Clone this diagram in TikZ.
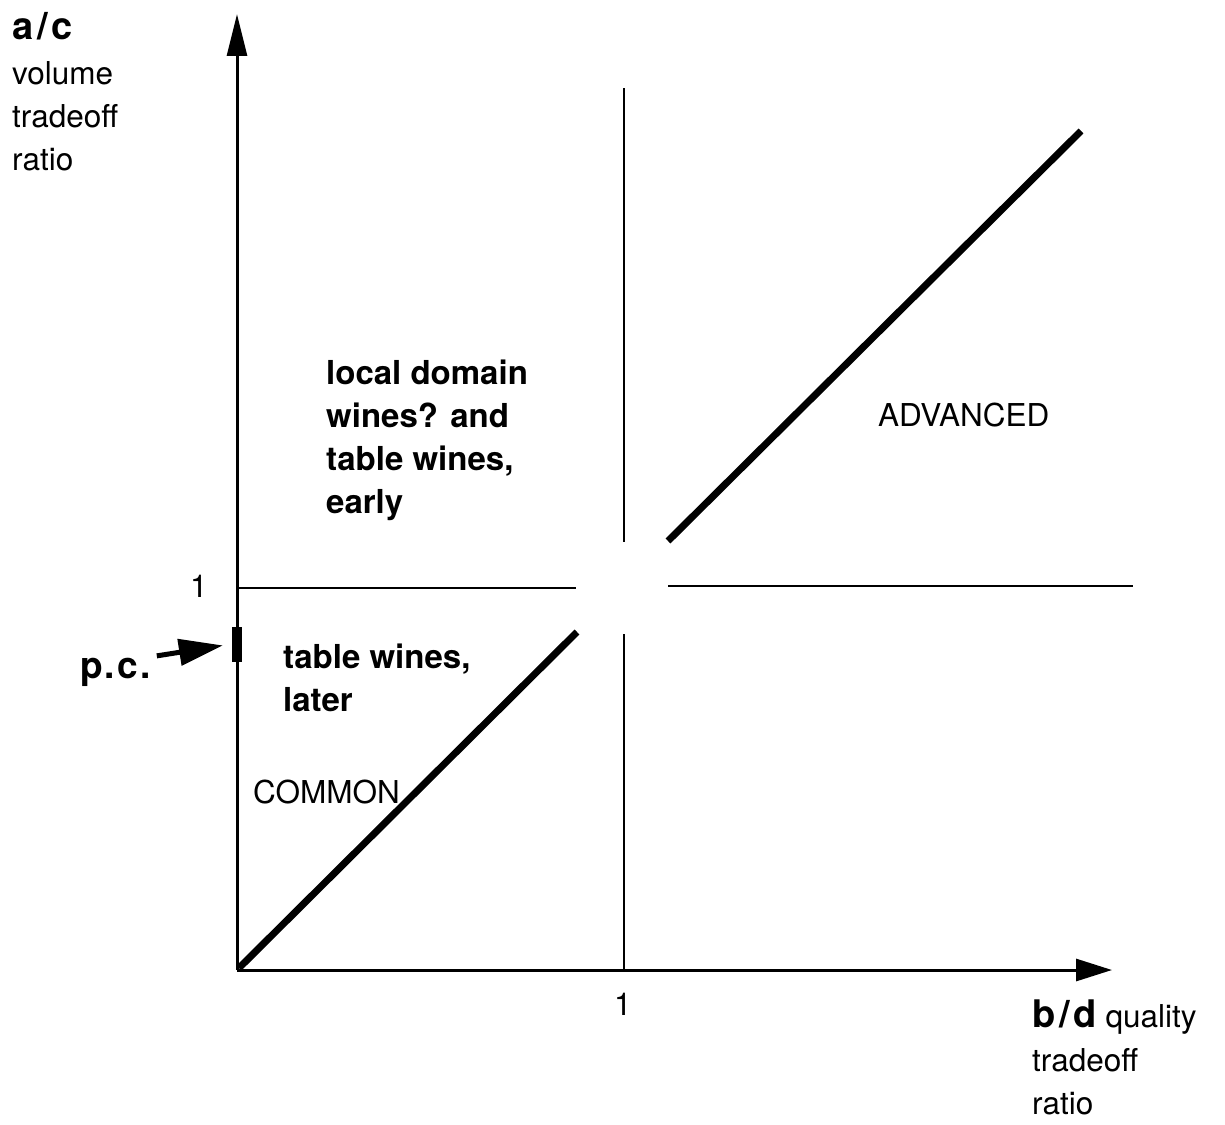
\documentclass[tikz,border=0pt]{standalone}
\usepackage{fontspec}
\setmainfont{TeX Gyre Heros}
\usetikzlibrary{arrows.meta}
\begin{document}
\begin{tikzpicture}[x=1pt,y=-1pt,
  reg/.style={inner sep=0pt,anchor=base west,font=\fontsize{31.5}{43}\selectfont,align=left},
  bld/.style={inner sep=0pt,anchor=base west,font=\fontsize{33}{43}\selectfont\bfseries,align=left},
  big/.style={inner sep=0pt,anchor=base west,font=\fontsize{38}{43}\selectfont\bfseries\addfontfeatures{LetterSpace=10}},
  axis/.style={line width=3pt},
  thin/.style={line width=2pt},
  thick/.style={line width=7pt},
  yhead/.style={-{Triangle[length=42pt,width=20pt]}},
  xhead/.style={-{Triangle[length=36pt,width=22pt]}}]
\useasboundingbox (0,0) rectangle (1225,1124);
% coordinates
\coordinate (O) at (237,970);
\coordinate (Ytop) at (237,14);
\coordinate (Xend) at (1112,970);
\coordinate (Vtop) at (624,88);
\coordinate (Vmid1) at (624,542);
\coordinate (Vmid2) at (624,634);
\coordinate (Vbot) at (624,970);
\coordinate (H1) at (237,588);
\coordinate (H2) at (576,588);
\coordinate (H3) at (668,586);
\coordinate (H4) at (1133,586);
\coordinate (D1a) at (239,968);
\coordinate (D1b) at (577,632);
\coordinate (D2a) at (668,541);
\coordinate (D2b) at (1081,131);
% axes
\draw[axis,yhead] (O) -- (Ytop);
\draw[axis,xhead] (O) -- (Xend);
% grid lines at 1
\draw[thin] (Vtop) -- (Vmid1);
\draw[thin] (Vmid2) -- (Vbot);
\draw[thin] (H1) -- (H2);
\draw[thin] (H3) -- (H4);
% diagonals
\draw[thick] (D1a) -- (D1b);
\draw[thick] (D2a) -- (D2b);
% p.c. mark
\node[fill=black,minimum width=10pt,minimum height=35pt,inner sep=0pt] (pcmark) at (237,644) {};
% labels (base anchor of a multi-line node = baseline of its last line)
\node[big] (ac) at (12,40) {a/c};
\node[reg] (vol) at (12,170) {volume\\tradeoff\\ratio};
\node[reg] (one1) at (190,597) {1};
\node[reg] (one2) at (614,1015) {1};
\node[bld] (local) at (326,513) {local domain\\wines? and\\table wines,\\early};
\node[bld] (tablel) at (283,711) {table wines,\\later};
\node[reg] (common) at (253,803) {COMMON};
\node[reg] (adv) at (878,426) {ADVANCED};
\node[bld,font=\fontsize{37}{43}\selectfont\bfseries\addfontfeatures{LetterSpace=6}] (pc) at (80,678) {p.c.};
\node[inner sep=0pt,anchor=base west] (bd) at (1032,1027) {{\fontsize{38}{43}\selectfont\bfseries\addfontfeatures{LetterSpace=10}b/d}\fontsize{31.5}{43}\selectfont\ quality};
\node[reg] (trat) at (1032,1114) {tradeoff\\ratio};
% p.c. arrow
\draw[line width=5pt,-{Triangle[length=44pt,width=26pt]},shorten >=9pt] (pc.east) ++(6,-16) coordinate (pcs) (pcs) -- (pcmark.west);
\end{tikzpicture}
\end{document}
